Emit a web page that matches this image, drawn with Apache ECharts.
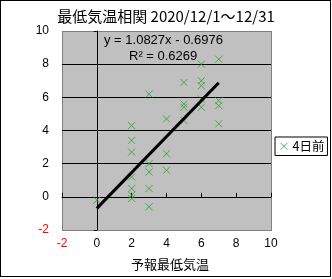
<!DOCTYPE html>
<html><head><meta charset="utf-8">
<script src="https://cdn.jsdelivr.net/npm/echarts@6/dist/echarts.min.js"></script>
<style>
html,body{margin:0;padding:0;background:#fff}
#wrap{position:relative;width:332px;height:279px}
#plotbg{position:absolute;left:62px;top:31px;width:208px;height:198px;background:#C0C0C0;border:1px solid #808080}
#c{position:absolute;left:0;top:0;width:332px;height:279px}
#frame{position:absolute;left:0;top:0;width:329px;height:275px;border:1.5px solid #000;pointer-events:none}
</style>
</head><body><div id="wrap"><div id="plotbg"></div><div id="c"></div><div id="frame"></div></div>
<script>
const titleText = '最低気温相関 2020/12/1～12/31';
const xAxisName = '予報最低気温';
const yAxisName = '実績最低気温';
const seriesName = '4日前';
const forecastMin = [0, 2, 2, 2, 2, 2, 2, 2, 3, 3, 3, 3, 3, 4, 4, 4, 5, 5, 5, 5, 6, 6, 6, 6, 6, 7, 7, 7, 7];
const actualMin   = [-0.2, 4.3, 3.4, 2.7, 1.2, 0.5, 0.1, -0.1, 6.2, 2.0, 1.5, 0.5, -0.6, 4.7, 2.6, 1.6, 6.9, 5.6, 5.4, 4.6, 8.0, 7.0, 6.7, 5.9, 5.4, 8.3, 5.8, 5.5, 4.4];
const trendSlope = 1.0827;
const trendIntercept = -0.6976;
const rSquared = 0.6269;
const axisMin = -2, axisMax = 10, axisStep = 2;

const green = '#2E9E2E';
const cross = 'path://M0,0L10,10M10,0L0,10';
const pts = forecastMin.map((x, i) => [x, actualMin[i]]);
const xLo = Math.min(...forecastMin), xHi = Math.max(...forecastMin);
const trend = [[xLo, trendSlope * xLo + trendIntercept], [xHi, trendSlope * xHi + trendIntercept]];
const eqText = 'y = ' + trendSlope.toFixed(4) + 'x - ' + Math.abs(trendIntercept).toFixed(4);
const r2Text = 'R² = ' + rSquared.toFixed(4);
const fnt = 'Liberation Sans';
const cjk = 'Noto Sans CJK JP';
const negFmt = v => (v < 0 ? '{r|' + v + '}' : '{k|' + v + '}');
const labelRich = {r: {color: '#FF0000', fontFamily: fnt, fontSize: 12}, k: {color: '#000000', fontFamily: fnt, fontSize: 12}};

const chart = echarts.init(document.getElementById('c'), null, {renderer: 'canvas'});
chart.setOption({
  animation: false,
  backgroundColor: 'transparent',
  title: [
    {text: titleText, left: 'center', top: 4, textStyle: {fontFamily: cjk, fontSize: 15, fontWeight: 'normal', color: '#000'}},
    {text: eqText, left: 99, top: 29, textStyle: {fontFamily: fnt, fontSize: 13, fontWeight: 'normal', color: '#000'}},
    {text: r2Text, left: 124, top: 45, textStyle: {fontFamily: fnt, fontSize: 13, fontWeight: 'normal', color: '#000'}},
    {text: xAxisName, left: 126, top: 253, textStyle: {fontFamily: cjk, fontSize: 13, fontWeight: 'normal', color: '#000'}}
  ],
  grid: {left: 62, top: 31, width: 209, height: 199, containLabel: false, outerBoundsMode: 'none'},
  legend: {
    left: 275, top: 137, orient: 'vertical', backgroundColor: '#fff', borderColor: '#000', borderWidth: 1,
    padding: [3, 3, 3, 5], itemWidth: 7, itemHeight: 7, itemGap: 0,
    textStyle: {fontFamily: cjk, fontSize: 12.5, color: '#000'},
    data: [{name: seriesName, icon: cross, itemStyle: {color: 'rgba(0,0,0,0)', borderColor: green, borderWidth: 1}}]
  },
  xAxis: {
    type: 'value', min: axisMin, max: axisMax, interval: axisStep,
    axisLine: {onZero: true, lineStyle: {color: '#000', width: 1}},
    axisTick: {show: true, inside: true, length: 4, lineStyle: {color: '#000'}},
    axisLabel: {margin: 8, formatter: negFmt, rich: labelRich},
    splitLine: {show: false}
  },
  yAxis: {
    type: 'value', min: axisMin, max: axisMax, interval: axisStep,
    name: yAxisName, nameLocation: 'middle', nameGap: 64, nameRotate: 90,
    nameTextStyle: {fontFamily: cjk, fontSize: 13, color: '#000'},
    axisLine: {onZero: true, lineStyle: {color: '#000', width: 1}},
    axisTick: {show: true, length: 3, lineStyle: {color: '#000'}},
    axisLabel: {margin: 13, formatter: negFmt, rich: labelRich},
    splitLine: {show: true, showMinLine: false, showMaxLine: false, lineStyle: {color: '#000', width: 1}}
  },
  series: [
    {name: seriesName, type: 'scatter', data: pts, symbol: cross, symbolSize: 7,
     itemStyle: {color: 'rgba(0,0,0,0)', borderColor: green, borderWidth: 1}, z: 3},
    {name: 'trend', type: 'line', data: trend, showSymbol: false, symbol: 'none',
     lineStyle: {color: '#000', width: 3}, z: 4, silent: true}
  ]
});
</script></body></html>
